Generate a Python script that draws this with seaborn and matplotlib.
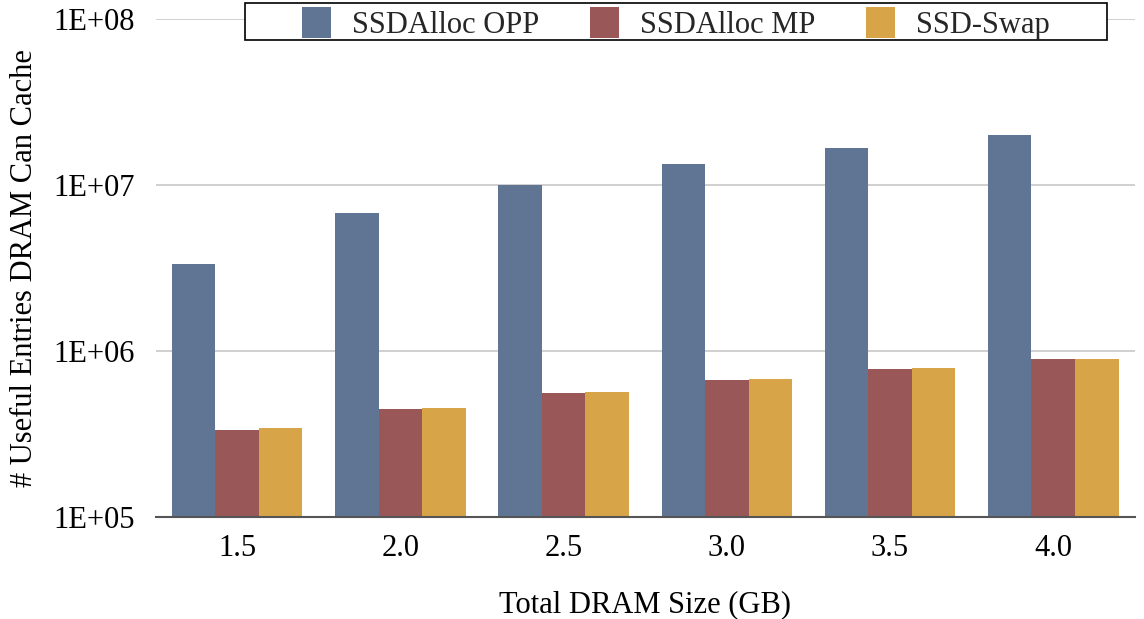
import matplotlib
matplotlib.use("Agg")
import matplotlib.pyplot as plt
from matplotlib.patches import Rectangle
import seaborn as sns
import pandas as pd

sizes = ["1.5", "2.0", "2.5", "3.0", "3.5", "4.0"]
series = ["SSDAlloc OPP", "SSDAlloc MP", "SSD-Swap"]
opp = [3.34e6, 6.77e6, 1.0e7, 1.34e7, 1.67e7, 2.0e7]
mp = [3.34e5, 4.48e5, 5.58e5, 6.68e5, 7.8e5, 8.96e5]
swap = [3.44e5, 4.54e5, 5.66e5, 6.77e5, 7.9e5, 8.96e5]
yticks = [1e5, 1e6, 1e7, 1e8]
ytick_labels = ["1E+05", "1E+06", "1E+07", "1E+08"]
colors = ["#5f7593", "#9a5757", "#d7a447"]

rows = []
for name, vals in zip(series, [opp, mp, swap]):
    for s, v in zip(sizes, vals):
        rows.append({"size": s, "series": name, "value": v})
df = pd.DataFrame(rows)

sns.set_theme(style="white")
plt.rcParams["font.family"] = ["Liberation Serif", "DejaVu Serif"]

fig = plt.figure(figsize=(11.44, 6.19), dpi=100)
ax = fig.add_axes([0.136, 0.165, 0.856, 0.804])
sns.barplot(data=df, x="size", y="value", hue="series", order=sizes,
            hue_order=series, palette=colors, width=0.8, saturation=1,
            edgecolor="none", linewidth=0, ax=ax)
ax.set_yscale("log")
ax.set_ylim(1e5, 1e8)
ax.set_xlim(-0.5, len(sizes) - 0.5)
ax.set_yticks(yticks)
ax.set_yticklabels(ytick_labels)
ax.minorticks_off()
ax.yaxis.grid(True, color="#c8c8c8", linewidth=1.2)
ax.set_axisbelow(True)
for sp in ["left", "right", "top"]:
    ax.spines[sp].set_visible(False)
ax.spines["bottom"].set_color("#555555")
ax.spines["bottom"].set_linewidth(1.5)
ax.tick_params(axis="y", which="major", length=0, labelsize=22, pad=15, colors="black")
ax.tick_params(axis="x", length=0, labelsize=22, pad=12, colors="black")
ax.set_xlabel("Total DRAM Size (GB)", fontsize=22, labelpad=20, color="black")
ax.set_ylabel("# Useful Entries DRAM Can Cache", fontsize=22, labelpad=10, color="black")

handles, labels = ax.get_legend_handles_labels()
ax.legend_.remove()
fig.patches.append(Rectangle((0.214, 0.935), 0.754, 0.060, transform=fig.transFigure,
                             facecolor="white", edgecolor="black", linewidth=1.2,
                             zorder=5))
leg = fig.legend(handles, labels, loc="center", bbox_to_anchor=(0.264, 0.932, 0.654, 0.060),
                 mode="expand", ncol=3, fontsize=22, frameon=False,
                 handlelength=0.95, handleheight=1.15, handletextpad=0.7,
                 borderpad=0.0, borderaxespad=0.0)
leg.set_zorder(6)

fig.savefig("out.png", dpi=100)
